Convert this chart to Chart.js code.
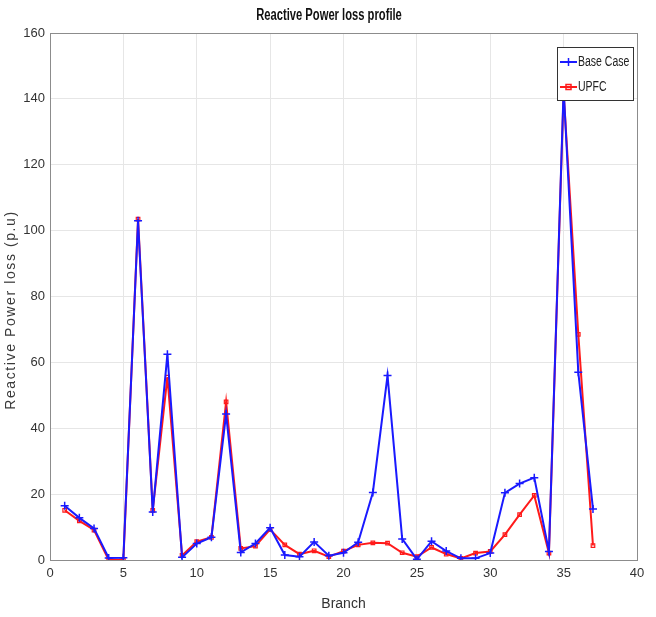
<!DOCTYPE html>
<html>
<head>
<meta charset="utf-8">
<script src="https://cdn.jsdelivr.net/npm/chart.js@4.4.1/dist/chart.umd.min.js"></script>
<style>
  html, body { margin: 0; padding: 0; background: #fff; }
  #wrap { width: 656px; height: 617px; position: relative; }
</style>
</head>
<body>
<div id="wrap"><canvas id="lossChart"></canvas></div>
<script>
// branch numbers and reactive power loss (p.u)
const branches = [1,2,3,4,5,6,7,8,9,10,11,12,13,14,15,16,17,18,19,20,21,22,23,24,25,26,27,28,29,30,31,32,33,34,35,36,37];
const baseCase = [16.5,12.8,9.6,0.6,0.7,103,14.6,62.5,0.8,5,6.9,44.3,2.3,5,9.8,1.5,1,5.5,1.3,2.2,5.4,20.5,56,6.4,0.2,5.7,2.7,0.5,0.5,2.1,20.4,23.2,25,2.6,143,57,15.5];
const upfc     = [15.1,11.9,9.1,0,0,103.5,15.1,55.5,1.4,5.6,6.9,48,3.5,4.2,9.3,4.6,1.8,2.8,1,2.7,4.6,5.2,5.1,2.2,1,3.8,1.8,0.5,2.1,2.6,7.7,13.8,19.6,2.1,142,68.5,4.4];
const xTicks = [0,5,10,15,20,25,30,35,40];
const yTicks = [0,20,40,60,80,100,120,140,160];

const chartTitle = 'Reactive Power loss profile';
const yTitle = 'Reactive Power loss (p.u)';

const tickFont = { family: "'Liberation Sans', Arial, sans-serif", size: 13 };

function toPoints(vals) {
  return branches.map((b, i) => ({ x: b, y: vals[i] }));
}

// narrow text helper (the original uses a condensed Helvetica)
function narrowText(ctx, text, x, y, sx) {
  ctx.save();
  ctx.translate(x, y);
  ctx.scale(sx, 1);
  ctx.fillText(text, 0, 0);
  ctx.restore();
}

// title, y label, box round the plot area and a legend inside it, MATLAB style
const boxAndLegend = {
  id: 'boxAndLegend',
  afterDraw(chart) {
    const { ctx, chartArea: a } = chart;
    ctx.save();
    ctx.strokeStyle = '#8c8c8c';
    ctx.lineWidth = 1;
    ctx.strokeRect(a.left + 0.5, a.top + 0.5, a.right - a.left, a.bottom - a.top);

    // title
    ctx.fillStyle = '#111';
    ctx.font = "bold 16px 'Liberation Sans', Arial, sans-serif";
    ctx.textAlign = 'center';
    ctx.textBaseline = 'middle';
    narrowText(ctx, chartTitle, 329, 16, 0.7);

    // y axis label, wide spaced
    ctx.save();
    ctx.translate(11, 310);
    ctx.rotate(-Math.PI / 2);
    ctx.font = "14px 'Liberation Sans', Arial, sans-serif";
    ctx.letterSpacing = '1.6px';
    ctx.fillStyle = '#3a3a3a';
    ctx.fillText(yTitle, 0, 0);
    ctx.restore();

    // legend
    const x0 = a.right - 80, y0 = a.top + 14, w = 76, h = 53;
    ctx.fillStyle = '#fff';
    ctx.fillRect(x0, y0, w, h);
    ctx.strokeStyle = '#333';
    ctx.strokeRect(x0 + 0.5, y0 + 0.5, w, h);
    ctx.font = "14px 'Liberation Sans', Arial, sans-serif";
    ctx.textAlign = 'left';
    ctx.textBaseline = 'middle';
    chart.data.datasets.forEach((ds, i) => {
      const cy = y0 + 15 + i * 25;
      ctx.strokeStyle = ds.borderColor;
      ctx.lineWidth = 2;
      ctx.beginPath();
      ctx.moveTo(x0 + 3, cy); ctx.lineTo(x0 + 20, cy);
      ctx.stroke();
      ctx.lineWidth = 1.5;
      if (ds.pointStyle === 'cross') {
        ctx.beginPath();
        ctx.moveTo(x0 + 11.5, cy - 4); ctx.lineTo(x0 + 11.5, cy + 4);
        ctx.stroke();
      } else {
        ctx.strokeRect(x0 + 9, cy - 2.5, 5, 5);
      }
      ctx.fillStyle = '#222';
      narrowText(ctx, ds.label, x0 + 21, cy, 0.75);
    });
    ctx.restore();
  }
};

new Chart(document.getElementById('lossChart'), {
  type: 'line',
  data: {
    datasets: [
      {
        label: 'Base Case',
        data: toPoints(baseCase),
        borderColor: '#1a1aff',
        backgroundColor: '#1a1aff',
        borderWidth: 2,
        pointStyle: 'cross',
        pointRadius: 4,
        pointBorderWidth: 1.5,
        tension: 0
      },
      {
        label: 'UPFC',
        data: toPoints(upfc),
        borderColor: '#ff1a1a',
        backgroundColor: 'rgba(255,255,255,0)',
        borderWidth: 2,
        pointStyle: 'rect',
        pointRadius: 2.5,
        pointBorderWidth: 1.2,
        tension: 0
      }
    ]
  },
  options: {
    responsive: true,
    maintainAspectRatio: false,
    animation: false,
    layout: { padding: { left: 0, right: 19, top: 33, bottom: 0 } },
    plugins: {
      legend: { display: false },
      tooltip: { enabled: false },
      title: { display: false }
    },
    scales: {
      x: {
        type: 'linear',
        min: 0, max: 40,
        afterBuildTicks(scale) { scale.ticks = xTicks.map(v => ({ value: v })); },
        afterFit(scale) { scale.height = 57; },
        grid: { color: '#e6e6e6', drawTicks: false },
        border: { color: '#8c8c8c' },
        ticks: { color: '#333', font: tickFont, padding: 6 },
        title: {
          display: true, text: 'Branch', color: '#333',
          font: { family: "'Liberation Sans', Arial, sans-serif", size: 14 },
          padding: { top: 6 }
        }
      },
      y: {
        min: 0, max: 160,
        afterBuildTicks(scale) { scale.ticks = yTicks.map(v => ({ value: v })); },
        afterFit(scale) { scale.width = 50; },
        grid: { color: '#e6e6e6', drawTicks: false },
        border: { color: '#8c8c8c' },
        ticks: { color: '#333', font: tickFont, padding: 5 },
        title: { display: false }
      }
    }
  },
  plugins: [boxAndLegend]
});
</script>
</body>
</html>
